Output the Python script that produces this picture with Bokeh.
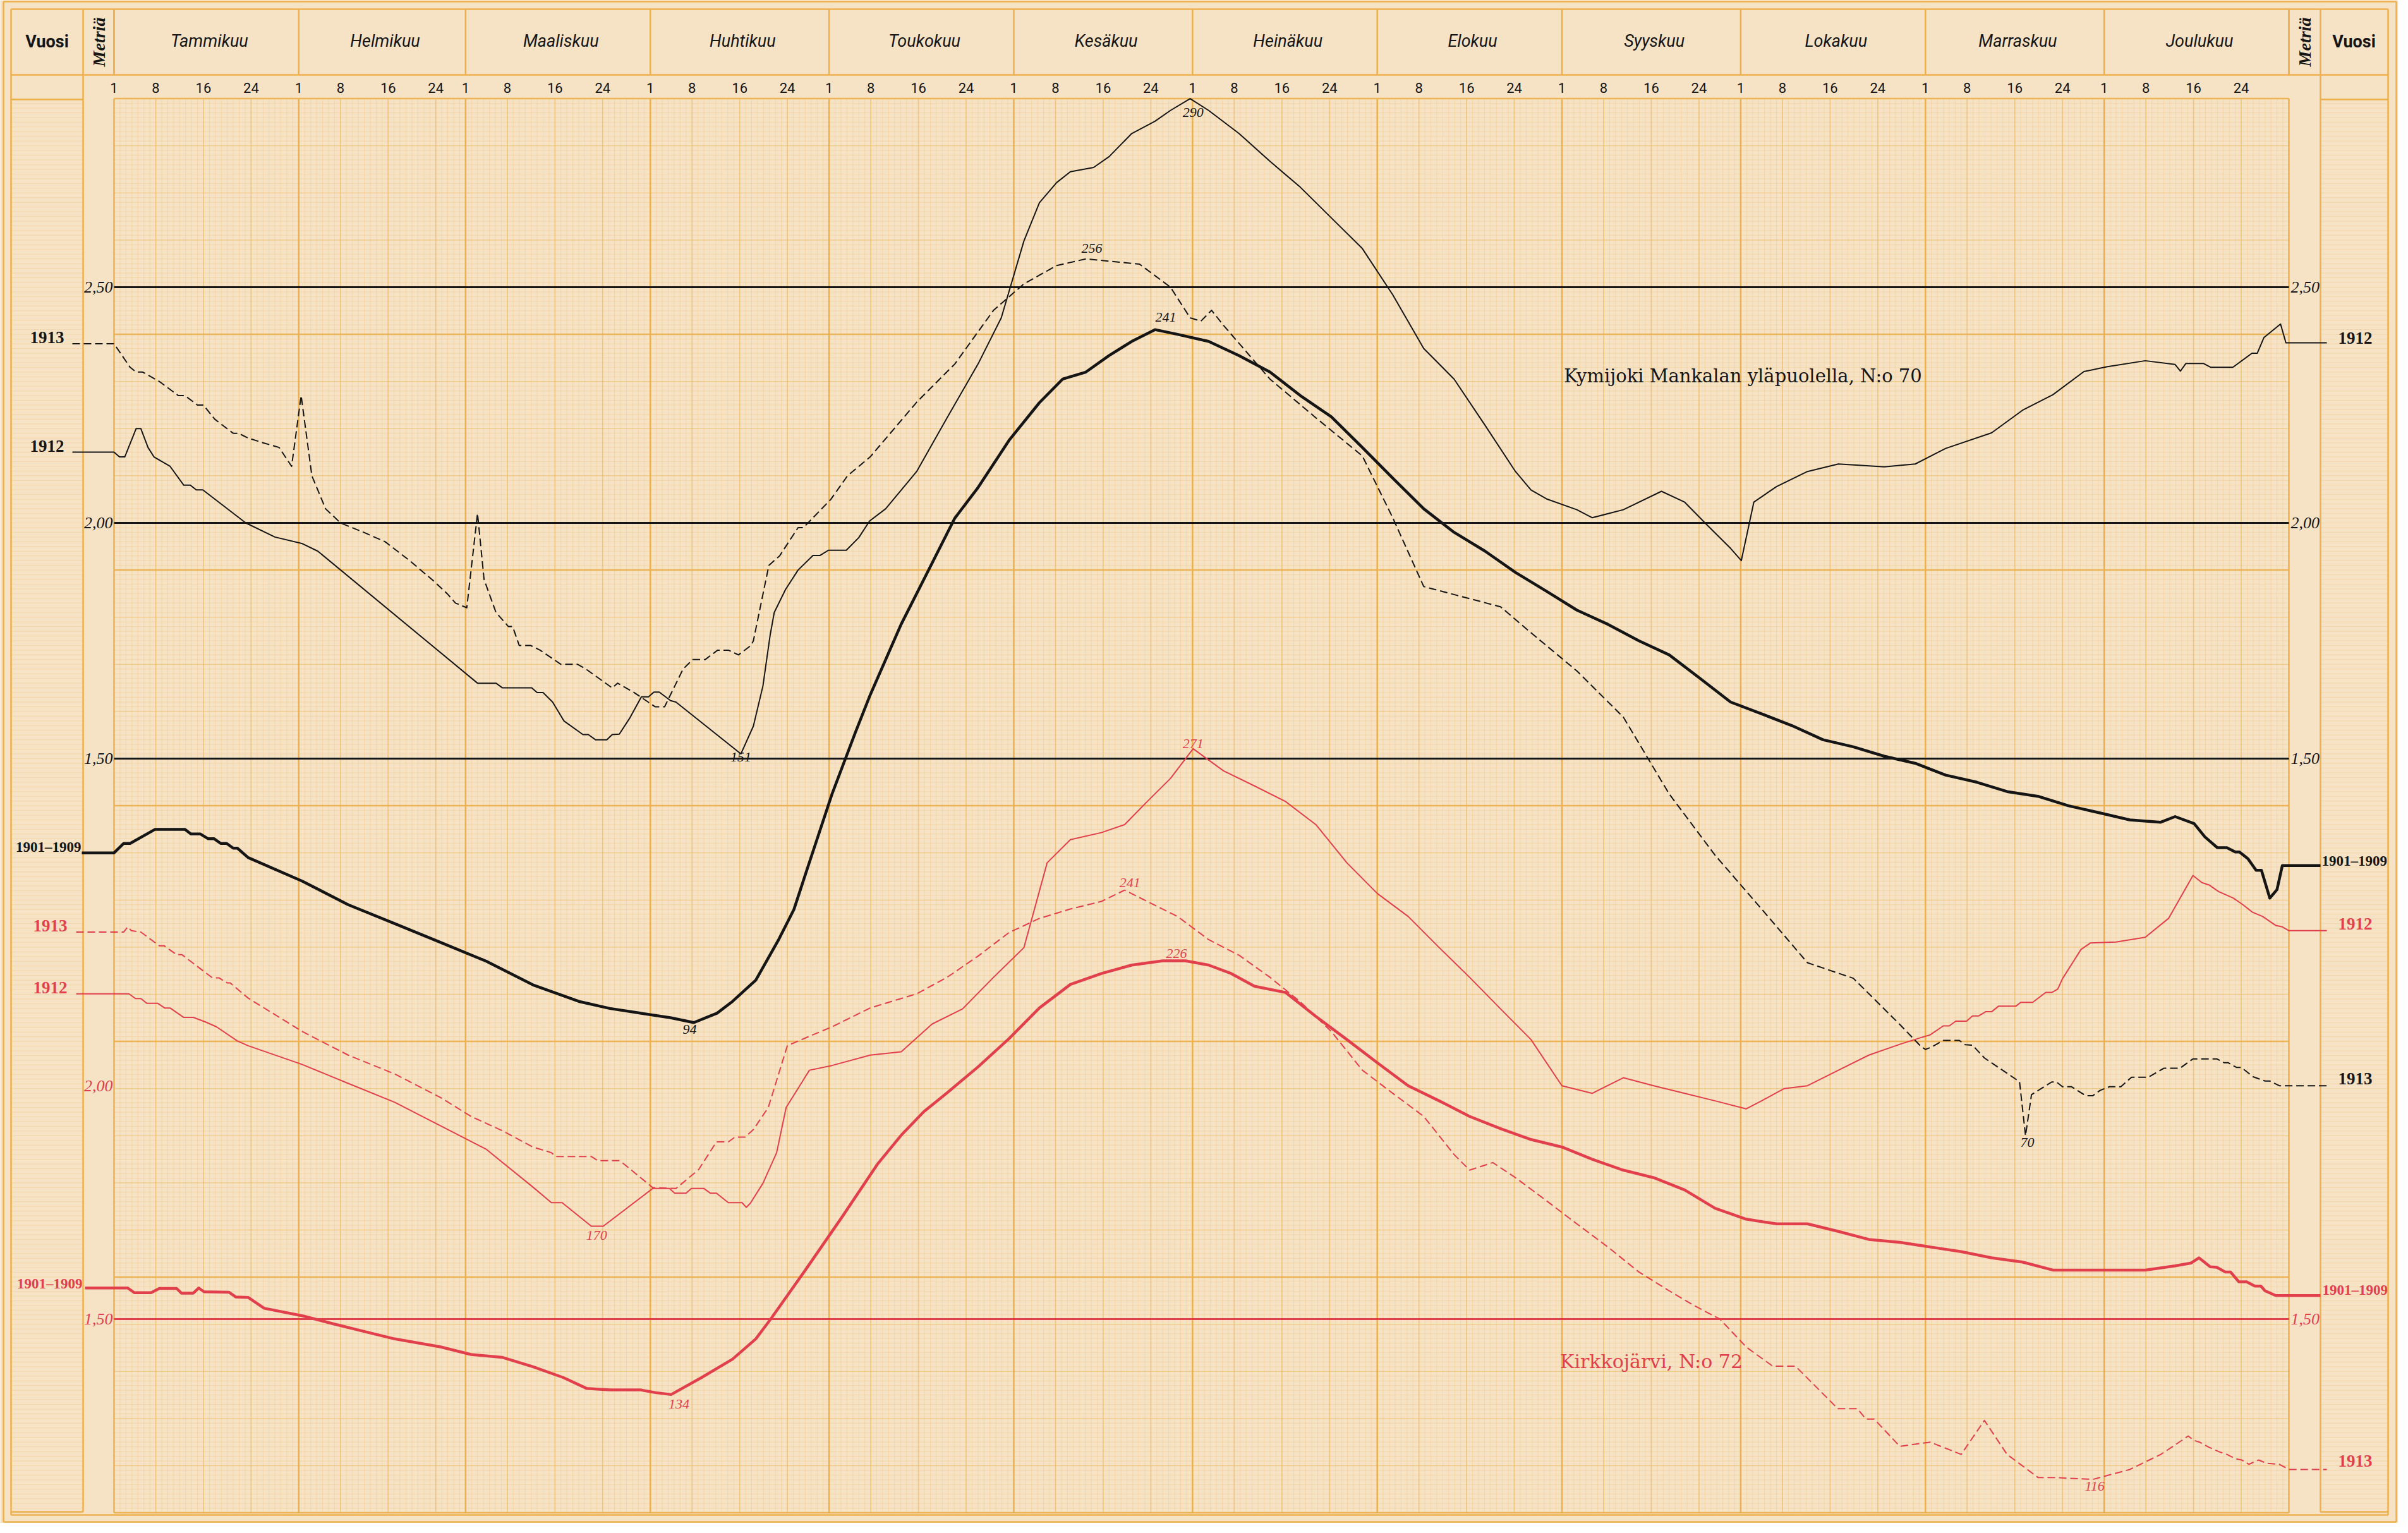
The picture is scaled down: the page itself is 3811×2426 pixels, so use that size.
from bokeh.plotting import figure
from bokeh.models import Range1d
from bokeh.embed import file_html
from bokeh.resources import INLINE
from bokeh.core.properties import value
import math

# ---------------- data (day of year from 1 Jan = 0, water level in metres) -------------
MONTHS = ["Tammikuu", "Helmikuu", "Maaliskuu", "Huhtikuu", "Toukokuu", "Kesäkuu",
          "Heinäkuu", "Elokuu", "Syyskuu", "Lokakuu", "Marraskuu", "Joulukuu"]
MONTH_DAYS = [31, 28, 31, 30, 31, 30, 31, 31, 30, 31, 30, 31]
DAY_TICK_LABELS = ["1", "8", "16", "24"]
DAY_TICK_OFFSETS = [0, 7, 15, 23]

# Kymijoki Mankalan yläpuolella, N:o 70
K_AVG = [(0, 1.30), (1.6, 1.32), (2.7, 1.32), (6.9, 1.35), (11.9, 1.35), (12.9, 1.34), (14.5, 1.34),
         (15.8, 1.33), (16.8, 1.33), (17.9, 1.32), (18.9, 1.32), (20.0, 1.31), (20.7, 1.31), (22.5, 1.29),
         (31.6, 1.24), (39.3, 1.19), (47.1, 1.15), (54.8, 1.11), (62.5, 1.07), (70.3, 1.02), (78.0, 0.985),
         (83.2, 0.97), (88.3, 0.96), (93.5, 0.95), (97.3, 0.94), (101.2, 0.96), (103.8, 0.985), (107.7, 1.03),
         (111.5, 1.115), (114.1, 1.18), (116.7, 1.28), (120.5, 1.425), (124.4, 1.555), (126.9, 1.635),
         (132.1, 1.785), (137.3, 1.915), (141.1, 2.01), (145.0, 2.075), (150.2, 2.175), (155.3, 2.255),
         (159.2, 2.305), (163.1, 2.32), (167.0, 2.355), (170.8, 2.385), (174.7, 2.41), (178.5, 2.40),
         (183.7, 2.385), (188.8, 2.355), (194.0, 2.32), (199.1, 2.27), (204.3, 2.225), (209.5, 2.16),
         (214.6, 2.095), (219.8, 2.03), (224.9, 1.98), (230.1, 1.94), (235.2, 1.895), (240.4, 1.855),
         (245.5, 1.815), (250.7, 1.785), (255.9, 1.75), (261.0, 1.72), (266.2, 1.67), (271.3, 1.62),
         (276.5, 1.595), (281.6, 1.57), (286.8, 1.54), (291.9, 1.525), (297.1, 1.505), (302.3, 1.49),
         (307.4, 1.465), (312.6, 1.45), (317.7, 1.43), (322.9, 1.42), (328.0, 1.40), (333.2, 1.385),
         (338.3, 1.37), (343.5, 1.365), (345.9, 1.377), (349.1, 1.362), (350.9, 1.334), (353.0, 1.311),
         (354.6, 1.311), (356.0, 1.302), (356.7, 1.302), (358.1, 1.288), (359.5, 1.263), (360.4, 1.263),
         (361.8, 1.204), (363.0, 1.222), (363.9, 1.273), (365.0, 1.273)]

K_1912 = [(0, 2.15), (0.9, 2.14), (1.8, 2.14), (3.7, 2.20), (4.5, 2.20), (5.7, 2.16), (6.7, 2.14), (9.4, 2.12),
          (11.7, 2.08), (12.8, 2.08), (13.8, 2.07), (14.9, 2.07), (22.1, 2.00), (27.0, 1.97), (31.6, 1.956),
          (34.2, 1.94), (61.0, 1.66), (64.1, 1.66), (65.2, 1.65), (70.1, 1.65), (71.0, 1.64), (72.0, 1.64),
          (73.6, 1.62), (75.5, 1.58), (78.7, 1.551), (79.6, 1.551), (80.8, 1.54), (82.7, 1.54), (83.6, 1.551),
          (84.8, 1.552), (86.6, 1.587), (88.5, 1.631), (89.7, 1.631), (90.6, 1.641), (91.5, 1.641),
          (93.4, 1.623), (94.3, 1.62), (105.2, 1.51), (107.3, 1.569), (108.9, 1.654), (110.1, 1.761),
          (110.8, 1.81), (112.7, 1.859), (114.8, 1.90), (117.3, 1.931), (118.5, 1.931), (119.9, 1.942),
          (122.9, 1.942), (125.0, 1.969), (126.8, 2.004), (129.5, 2.03), (134.7, 2.109), (139.8, 2.223),
          (145.0, 2.337), (148.9, 2.435), (152.7, 2.598), (155.3, 2.679), (158.2, 2.722), (160.5, 2.745),
          (164.4, 2.754), (167.0, 2.777), (170.8, 2.826), (174.7, 2.852), (177.3, 2.875), (180.6, 2.90),
          (183.7, 2.875), (188.8, 2.826), (194.0, 2.767), (199.1, 2.712), (204.3, 2.647), (209.5, 2.582),
          (214.6, 2.484), (219.8, 2.37), (224.9, 2.305), (230.1, 2.207), (235.2, 2.109), (237.8, 2.07),
          (240.4, 2.051), (245.5, 2.028), (248.1, 2.011), (253.3, 2.028), (259.7, 2.067), (263.6, 2.044),
          (267.4, 1.995), (271.3, 1.946), (273.1, 1.92), (275.2, 2.044), (279.0, 2.077), (284.2, 2.109),
          (289.4, 2.125), (297.1, 2.119), (302.3, 2.125), (307.4, 2.158), (315.1, 2.191), (320.3, 2.239),
          (325.4, 2.272), (330.6, 2.321), (334.4, 2.331), (340.9, 2.344), (345.9, 2.336), (346.8, 2.322),
          (347.7, 2.338), (350.7, 2.338), (351.9, 2.33), (355.6, 2.33), (358.8, 2.36), (359.7, 2.36),
          (360.8, 2.393), (363.6, 2.422), (364.5, 2.382), (365.0, 2.382)]

K_1913 = [(0, 2.38), (2.7, 2.33), (3.7, 2.32), (4.8, 2.32), (7.6, 2.30), (10.8, 2.27), (11.9, 2.27), (14.0, 2.25),
          (15.0, 2.25), (16.9, 2.22), (20.0, 2.19), (20.9, 2.19), (22.5, 2.18), (25.0, 2.17), (27.7, 2.16),
          (29.8, 2.12), (31.4, 2.27), (33.2, 2.10), (35.5, 2.03), (38.0, 2.00), (41.9, 1.98), (45.5, 1.96),
          (49.6, 1.92), (53.8, 1.875), (55.9, 1.85), (57.3, 1.83), (59.2, 1.82), (61.0, 2.02), (62.1, 1.88),
          (64.1, 1.81), (66.2, 1.78), (66.9, 1.78), (68.0, 1.74), (69.9, 1.74), (71.5, 1.73), (75.0, 1.70),
          (77.8, 1.70), (79.2, 1.69), (83.6, 1.65), (84.5, 1.66), (87.3, 1.64), (90.8, 1.61), (92.4, 1.61),
          (95.5, 1.69), (97.1, 1.71), (99.2, 1.71), (101.3, 1.73), (103.1, 1.73), (104.8, 1.72), (106.9, 1.74),
          (107.3, 1.75), (109.9, 1.91), (111.7, 1.93), (114.8, 1.99), (115.7, 1.99), (120.3, 2.05),
          (123.1, 2.10), (126.9, 2.14), (134.7, 2.256), (141.1, 2.337), (147.6, 2.451), (152.7, 2.507),
          (158.2, 2.546), (163.1, 2.56), (172.1, 2.549), (177.3, 2.50), (180.6, 2.435), (182.4, 2.428),
          (184.2, 2.451), (186.2, 2.419), (194.0, 2.305), (201.7, 2.223), (209.5, 2.142), (214.6, 2.011),
          (219.8, 1.865), (224.9, 1.848), (232.7, 1.822), (237.8, 1.767), (245.5, 1.686), (253.3, 1.588),
          (261.0, 1.425), (268.7, 1.295), (276.5, 1.181), (284.2, 1.067), (291.9, 1.034), (299.7, 0.936),
          (303.2, 0.89), (304.0, 0.883), (305.0, 0.888), (307.0, 0.902), (309.7, 0.902), (310.7, 0.893),
          (311.9, 0.892), (313.9, 0.865), (319.4, 0.818), (319.8, 0.814), (320.8, 0.70), (321.8, 0.787),
          (325.2, 0.814), (326.0, 0.814), (327.0, 0.804), (328.5, 0.804), (330.9, 0.785), (332.1, 0.785),
          (333.3, 0.796), (334.9, 0.804), (336.8, 0.804), (338.6, 0.824), (341.4, 0.824), (344.0, 0.843),
          (346.7, 0.843), (348.9, 0.863), (352.9, 0.863), (354.1, 0.855), (354.8, 0.855), (356.2, 0.845),
          (357.0, 0.845), (359.0, 0.825), (361.0, 0.816), (361.8, 0.816), (363.4, 0.806), (365.0, 0.806)]

# Kirkkojärvi, N:o 72
R_AVG = [(0, 1.566), (2.3, 1.566), (3.4, 1.556), (6.2, 1.556), (7.6, 1.565), (10.5, 1.565), (11.3, 1.555),
         (13.3, 1.555), (14.2, 1.566), (15.1, 1.558), (19.3, 1.557), (20.4, 1.547), (22.5, 1.546), (25.2, 1.523),
         (31.6, 1.507), (36.8, 1.49), (41.9, 1.474), (47.1, 1.458), (54.8, 1.441), (59.9, 1.425), (65.1, 1.419),
         (70.3, 1.399), (75.4, 1.376), (79.3, 1.353), (83.2, 1.35), (88.3, 1.35), (90.9, 1.344), (93.5, 1.34),
         (98.6, 1.376), (103.8, 1.415), (107.7, 1.458), (110.2, 1.50), (115.8, 1.60), (122.2, 1.717),
         (128.2, 1.83), (132.1, 1.89), (135.9, 1.94), (139.8, 1.98), (145.0, 2.035), (150.2, 2.095),
         (155.3, 2.16), (160.5, 2.21), (165.7, 2.233), (170.8, 2.251), (176.0, 2.26), (179.8, 2.26),
         (183.7, 2.251), (187.5, 2.233), (191.4, 2.206), (196.6, 2.193), (201.7, 2.142), (206.9, 2.093),
         (212.0, 2.044), (217.2, 1.995), (222.4, 1.963), (227.5, 1.93), (232.7, 1.904), (237.8, 1.881),
         (243.0, 1.865), (248.1, 1.839), (253.3, 1.816), (258.4, 1.80), (263.6, 1.774), (268.7, 1.735),
         (273.9, 1.712), (279.0, 1.702), (284.2, 1.702), (289.4, 1.686), (294.5, 1.669), (299.7, 1.663),
         (304.8, 1.653), (310.0, 1.643), (315.1, 1.630), (320.3, 1.621), (325.4, 1.604), (330.6, 1.604),
         (335.7, 1.604), (340.9, 1.604), (345.9, 1.613), (348.6, 1.619), (349.9, 1.630), (351.8, 1.611),
         (352.9, 1.610), (354.3, 1.600), (355.2, 1.600), (356.6, 1.579), (357.9, 1.579), (359.3, 1.570),
         (360.3, 1.570), (361.0, 1.560), (362.8, 1.550), (365.0, 1.550)]

R_1912 = [(0, 2.19), (2.5, 2.19), (3.6, 2.18), (4.5, 2.18), (5.5, 2.17), (7.3, 2.17), (8.5, 2.16), (9.4, 2.16),
          (11.7, 2.14), (13.3, 2.14), (15.4, 2.13), (17.2, 2.12), (20.7, 2.09), (22.5, 2.08), (31.6, 2.04),
          (39.3, 2.00), (47.1, 1.96), (54.8, 1.91), (62.5, 1.86), (70.3, 1.78), (73.4, 1.747), (75.2, 1.747),
          (80.1, 1.697), (82.1, 1.697), (90.4, 1.777), (93.2, 1.777), (94.1, 1.767), (96.0, 1.767),
          (96.9, 1.777), (99.0, 1.777), (100.1, 1.767), (101.1, 1.767), (103.1, 1.747), (105.4, 1.747),
          (106.1, 1.737), (106.8, 1.746), (108.9, 1.788), (111.2, 1.853), (112.8, 1.949), (116.7, 2.028),
          (120.5, 2.038), (126.9, 2.06), (132.1, 2.067), (137.3, 2.126), (142.4, 2.158), (147.6, 2.225),
          (152.7, 2.288), (156.6, 2.468), (160.5, 2.517), (165.7, 2.532), (169.6, 2.549), (173.4, 2.598),
          (177.3, 2.647), (181.1, 2.71), (186.2, 2.663), (191.4, 2.631), (196.6, 2.598), (201.7, 2.549),
          (206.9, 2.468), (212.0, 2.403), (217.2, 2.354), (222.4, 2.288), (227.5, 2.225), (232.7, 2.158),
          (237.8, 2.093), (243.0, 1.995), (248.1, 1.979), (253.3, 2.012), (258.4, 1.995), (263.6, 1.979),
          (268.7, 1.963), (273.9, 1.946), (276.5, 1.963), (280.3, 1.989), (284.2, 1.995), (289.4, 2.028),
          (294.5, 2.06), (299.7, 2.083), (303.2, 2.097), (304.8, 2.103), (307.0, 2.122), (308.0, 2.122),
          (309.1, 2.132), (310.9, 2.132), (311.9, 2.143), (312.9, 2.143), (314.1, 2.152), (315.1, 2.152),
          (316.3, 2.164), (319.2, 2.164), (320.0, 2.172), (322.0, 2.172), (324.2, 2.193), (325.2, 2.193),
          (326.2, 2.20), (327.0, 2.222), (330.1, 2.284), (331.7, 2.298), (336.0, 2.30), (340.9, 2.31),
          (344.8, 2.35), (348.9, 2.441), (350.4, 2.426), (351.6, 2.421), (353.2, 2.407), (355.7, 2.393),
          (357.4, 2.378), (358.9, 2.363), (360.6, 2.354), (362.8, 2.335), (363.9, 2.332), (365.0, 2.324)]

R_1913 = [(0, 2.321), (1.6, 2.321), (2.3, 2.332), (2.9, 2.324), (4.5, 2.321), (7.6, 2.292), (8.4, 2.292),
          (10.5, 2.273), (11.4, 2.273), (16.5, 2.224), (17.6, 2.224), (19.0, 2.213), (19.5, 2.213), (22.5, 2.181),
          (31.6, 2.11), (39.3, 2.06), (47.1, 2.02), (54.8, 1.97), (59.9, 1.93), (65.1, 1.90), (70.3, 1.865),
          (73.4, 1.853), (74.1, 1.845), (80.1, 1.845), (81.2, 1.836), (84.9, 1.836), (90.4, 1.779),
          (94.3, 1.777), (98.1, 1.817), (101.1, 1.876), (103.1, 1.876), (104.2, 1.886), (105.9, 1.886),
          (107.3, 1.902), (109.8, 1.949), (113.0, 2.08), (116.7, 2.10), (120.5, 2.12), (126.9, 2.16),
          (134.7, 2.19), (139.8, 2.225), (145.0, 2.27), (150.2, 2.32), (155.3, 2.35), (160.5, 2.37),
          (165.7, 2.386), (169.6, 2.41), (173.4, 2.386), (178.5, 2.354), (183.7, 2.305), (188.8, 2.272),
          (194.0, 2.225), (199.1, 2.173), (204.3, 2.11), (209.5, 2.028), (214.6, 1.979), (219.8, 1.93),
          (224.9, 1.849), (227.5, 1.816), (231.4, 1.832), (235.2, 1.80), (240.4, 1.751), (245.5, 1.702),
          (250.7, 1.653), (255.9, 1.60), (261.0, 1.56), (265.0, 1.53), (269.5, 1.50), (274.0, 1.44),
          (278.4, 1.40), (282.2, 1.40), (289.3, 1.31), (292.6, 1.31), (294.0, 1.288), (295.4, 1.288),
          (299.7, 1.23), (304.8, 1.239), (310.0, 1.213), (313.9, 1.285), (317.7, 1.213), (322.9, 1.164),
          (325.4, 1.164), (332.1, 1.16), (338.3, 1.181), (343.5, 1.213), (345.9, 1.233), (348.1, 1.252),
          (349.0, 1.243), (350.0, 1.239), (351.6, 1.228), (353.4, 1.218), (354.6, 1.213), (356.0, 1.204),
          (357.1, 1.201), (358.3, 1.192), (359.9, 1.201), (361.3, 1.194), (363.4, 1.192), (365.0, 1.181)]

# extreme-value annotations: (day, level, text)
K_NOTES = [(181.1, 2.871, "290"), (164.1, 2.582, "256"), (176.5, 2.436, "241"),
           (105.2, 1.503, "151"), (96.6, 0.926, "94"), (321.1, 0.686, "70")]
R_NOTES = [(181.1, 2.721, "271"), (170.5, 2.425, "241"), (178.3, 2.275, "226"),
           (81.0, 1.678, "170"), (94.8, 1.320, "134"), (332.4, 1.145, "116")]
K_REF_LEVELS = [2.50, 2.00, 1.50]
K_REF_TEXT = ["2,50", "2,00", "1,50"]
R_REF_LEVELS = [1.50]
R_REF_TEXT = ["1,50"]
R_EXTRA_LEVEL = 2.00
R_EXTRA_TEXT = "2,00"
TITLE_K = "Kymijoki Mankalan yläpuolella, N:o 70"
TITLE_R = "Kirkkojärvi, N:o 72"

# ---------------- geometry -------------------------------------------------------------
W, H = 3795, 2410
PPD = 9.4301     # pixels per day
PPM = 746.0      # pixels per metre


def dx(X):
    return (X - 188.0) / PPD


def dy(Y):
    return 2.0 - (Y - 835.0) / PPM


def dyr(Y):
    return 1.5 - (Y - 2095.0) / PPM


PAPER = "#f6e3c6"
FINE = "#efc685"
MED = "#eebd68"
HEAVY = "#ecb04e"
BLACK = "#151515"
RED = "#e23f4d"

p = figure(width=W, height=H, x_range=Range1d(dx(8), dx(8 + W)), y_range=Range1d(dy(8 + H), dy(8)),
           x_axis_type=None, y_axis_type=None, output_backend="svg", toolbar_location=None,
           min_border=0)
p.extra_y_ranges = {"red": Range1d(dyr(8 + H), dyr(8))}
p.outline_line_color = None
p.background_fill_color = PAPER
p.border_fill_color = PAPER
p.grid.visible = False

month_start = [0]
for d in MONTH_DAYS:
    month_start.append(month_start[-1] + d)

G_TOP, G_BOT = 2.90, -0.10

# graph paper
fx = list(range(0, 366))
p.segment(x0=fx, y0=G_BOT, x1=fx, y1=G_TOP, line_color=FINE, line_width=1, line_alpha=0.45)
fy = [round(G_BOT + i * 0.01, 3) for i in range(301)]
for (a, b) in [(0, 365), (dx(25), dx(139)), (dx(3680), dx(3787))]:
    p.segment(x0=a, y0=fy, x1=b, y1=fy, line_color=FINE, line_width=1, line_alpha=0.45)
mx = [ms + o for ms in month_start[:-1] for o in (7, 15, 23)]
p.segment(x0=mx, y0=G_BOT, x1=mx, y1=G_TOP, line_color=MED, line_width=1.8, line_alpha=0.65)
my = [round(G_BOT + i * 0.1, 3) for i in range(31)]
p.segment(x0=0, y0=my, x1=365, y1=my, line_color=MED, line_width=1.3, line_alpha=0.55)
hy = [round(G_TOP - i * 0.5, 3) for i in range(7)]
p.segment(x0=0, y0=hy, x1=365, y1=hy, line_color=HEAVY, line_width=2.5, line_alpha=0.9)
p.segment(x0=month_start, y0=G_BOT, x1=month_start, y1=G_TOP, line_color=HEAVY, line_width=2.5)

# frame / header rules (reference pixel positions)
frame = [
    (13, 10, 3800, 10), (13, 2416, 3800, 2416), (13, 10, 13, 2416), (3800, 10, 3800, 2416),
    (25, 22, 3787, 22), (25, 2405, 3787, 2405), (25, 22, 25, 2405), (3787, 22, 3787, 2405),
    (25, 126, 3787, 126),
    (139, 22, 139, 2400), (3680, 22, 3680, 2400),
    (188, 22, 188, 126), (3630, 22, 3630, 126),
    (25, 2400, 139, 2400), (3680, 2400, 3787, 2400),
    (25, 165, 139, 165), (3680, 165, 3787, 165),
]
p.segment(x0=[dx(a) for a, b, c, d in frame], y0=[dy(b) for a, b, c, d in frame],
          x1=[dx(c) for a, b, c, d in frame], y1=[dy(d) for a, b, c, d in frame],
          line_color=HEAVY, line_width=2.5)
p.segment(x0=month_start, y0=dy(22), x1=month_start, y1=dy(126), line_color=HEAVY, line_width=2.5)

# header text
p.text(x=[(month_start[i] + month_start[i + 1]) / 2 + 0.5 for i in range(12)], y=dy(72), text=MONTHS,
       text_font=value("Roboto"), text_font_style="italic", text_font_size="27px", text_color=BLACK,
       text_align="center", text_baseline="middle")
tx, tt = [], []
for ms in month_start[:-1]:
    for o, lab in zip(DAY_TICK_OFFSETS, DAY_TICK_LABELS):
        tx.append(ms + o)
        tt.append(lab)
p.text(x=tx, y=dy(146), text=tt, text_font=value("Roboto"), text_font_size="22px", text_color=BLACK,
       text_align="center", text_baseline="middle")
p.text(x=[dx(82), dx(3733)], y=dy(73), text=["Vuosi", "Vuosi"], text_font=value("Roboto"),
       text_font_style="bold", text_font_size="27px", text_color=BLACK, text_align="center",
       text_baseline="middle")
p.text(x=[dx(164), dx(3655)], y=dy(74), text=["Metriä", "Metriä"], angle=math.pi / 2,
       text_font=value("Liberation Serif"), text_font_style="bold italic", text_font_size="28px",
       text_color=BLACK, text_align="center", text_baseline="middle")

# reference levels
for lv, lab in zip(K_REF_LEVELS, K_REF_TEXT):
    p.line([0, 365], [lv, lv], line_color=BLACK, line_width=3)
    p.text(x=[dx(186)], y=[lv], text=[lab], text_font=value("Liberation Serif"), text_font_style="italic",
           text_font_size="26px", text_color=BLACK, text_align="right", text_baseline="alphabetic")
    p.text(x=[dx(3633)], y=[lv], text=[lab], text_font=value("Liberation Serif"), text_font_style="italic",
           text_font_size="26px", text_color=BLACK, text_align="left", text_baseline="alphabetic")
for lv, lab in zip(R_REF_LEVELS, R_REF_TEXT):
    p.line([0, 365], [lv, lv], line_color=RED, line_width=3, y_range_name="red")
    p.text(x=[dx(186)], y=[lv], text=[lab], text_font=value("Liberation Serif"), text_font_style="italic",
           text_font_size="26px", text_color=RED, text_align="right", text_baseline="alphabetic",
           y_range_name="red")
    p.text(x=[dx(3633)], y=[lv], text=[lab], text_font=value("Liberation Serif"), text_font_style="italic",
           text_font_size="26px", text_color=RED, text_align="left", text_baseline="alphabetic",
           y_range_name="red")
p.text(x=[dx(186)], y=[R_EXTRA_LEVEL], text=[R_EXTRA_TEXT], text_font=value("Liberation Serif"),
       text_font_style="italic", text_font_size="26px", text_color=RED, text_align="right",
       text_baseline="alphabetic", y_range_name="red", y_offset=4)

# series
SERIES = [
    # data, colour, width, dash, range, left lead X, right lead X, label, left label right-edge X,
    # right label left X, left dy, right dy
    (K_AVG, BLACK, 4.5, "solid", "default", 137, 3680, "1901–1909", 136, 3682, -9, -7),
    (K_1912, BLACK, 2, "solid", "default", 122, 3690, "1912", 109, 3708, -10, -8),
    (K_1913, BLACK, 2, "12 6", "default", 122, 3690, "1913", 109, 3708, -10, -11),
    (R_AVG, RED, 4.5, "solid", "red", 142, 3680, "1901–1909", 138, 3683, -7, -9),
    (R_1912, RED, 2, "solid", "red", 128, 3690, "1912", 114, 3708, -10, -11),
    (R_1913, RED, 2, "12 6", "red", 128, 3690, "1913", 114, 3708, -10, -13),
]
for data, col, lw, dash, rng, lx, rx, lab, llx, rlx, ldy, rdy in SERIES:
    xs = [dx(lx)] + [d for d, v in data] + [dx(rx)]
    ys = [data[0][1]] + [v for d, v in data] + [data[-1][1]]
    kw = {} if rng == "default" else {"y_range_name": rng}
    p.line(xs, ys, line_color=col, line_width=lw, line_dash=dash, line_join="round", **kw)
    size = "23px" if "–" in lab else "27px"
    p.text(x=[dx(llx)], y=[data[0][1]], text=[lab], text_font=value("Liberation Serif"),
           text_font_style="bold", text_font_size=size, text_color=col, text_align="right",
           text_baseline="middle", y_offset=ldy, **kw)
    p.text(x=[dx(rlx)], y=[data[-1][1]], text=[lab], text_font=value("Liberation Serif"),
           text_font_style="bold", text_font_size=size, text_color=col, text_align="left",
           text_baseline="middle", y_offset=rdy, **kw)

# annotations
p.text(x=[n[0] for n in K_NOTES], y=[n[1] for n in K_NOTES], text=[n[2] for n in K_NOTES],
       text_font=value("Liberation Serif"), text_font_style="italic", text_font_size="22px",
       text_color=BLACK, text_align="center", text_baseline="middle")
p.text(x=[n[0] for n in R_NOTES], y=[n[1] for n in R_NOTES], text=[n[2] for n in R_NOTES],
       text_font=value("Liberation Serif"), text_font_style="italic", text_font_size="22px",
       text_color=RED, text_align="center", text_baseline="middle", y_range_name="red")

# titles
p.text(x=[dx(2766)], y=[dy(602)], text=[TITLE_K], text_font=value("DejaVu Serif"), text_font_size="29px",
       text_color=BLACK, text_align="center", text_baseline="middle")
p.text(x=[dx(2621)], y=[dyr(2162)], text=[TITLE_R], text_font=value("DejaVu Serif"), text_font_size="30px",
       text_color=RED, text_align="center", text_baseline="middle", y_range_name="red")

html = file_html(p, INLINE, title="Vedenkorkeus")
html = html.replace("<body>", '<body style="background-color:%s;">' % PAPER, 1)
open("out.html", "w").write(html)
